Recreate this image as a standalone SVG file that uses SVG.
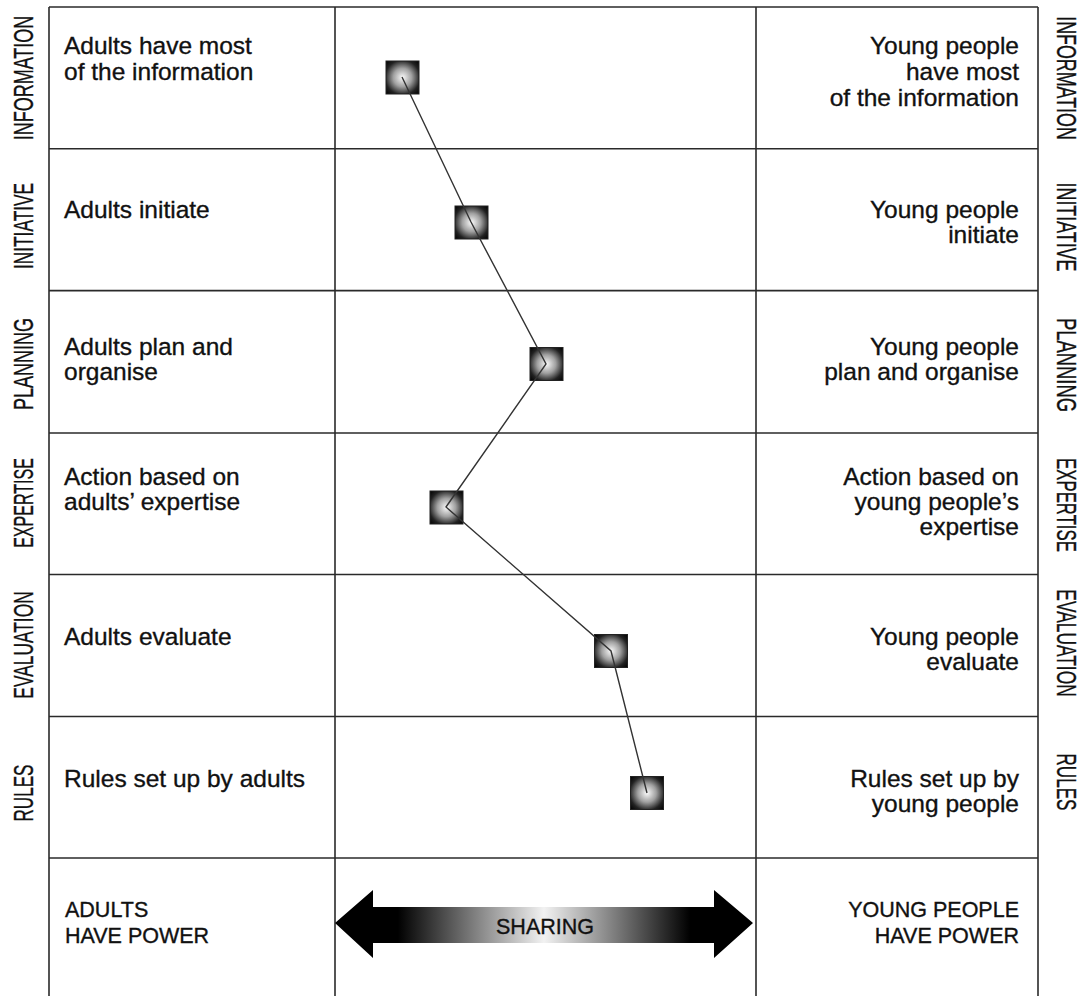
<svg xmlns="http://www.w3.org/2000/svg" width="1083" height="996" viewBox="0 0 1083 996">
<style>
.grid{stroke:#2a2a2a;stroke-width:1.6;fill:none}
.t{font-family:"Liberation Sans",Arial,sans-serif;font-size:24.5px;fill:#111;stroke:#111;stroke-width:0.35}
.r{text-anchor:end}
.cap{font-family:"Liberation Sans",Arial,sans-serif;font-size:21.5px;fill:#111;stroke:#111;stroke-width:0.35}
.side{font-family:"Liberation Sans",Arial,sans-serif;font-size:28px;fill:#111;stroke:#111;stroke-width:0.35;text-anchor:middle}
.mk{fill:url(#rg);stroke:#222;stroke-width:1}
.conn{stroke:#333;stroke-width:1.4;fill:none}
</style>
<defs>
<radialGradient id="rg" cx="0.5" cy="0.5" r="0.7">
<stop offset="0" stop-color="#fafafa"/>
<stop offset="0.4" stop-color="#a0a0a0"/>
<stop offset="0.75" stop-color="#222"/>
<stop offset="1" stop-color="#000"/>
</radialGradient>
<linearGradient id="lg" x1="335" y1="0" x2="753" y2="0" gradientUnits="userSpaceOnUse">
<stop offset="0" stop-color="#000"/>
<stop offset="0.15" stop-color="#000"/>
<stop offset="0.5" stop-color="#f2f2f2"/>
<stop offset="0.85" stop-color="#000"/>
<stop offset="1" stop-color="#000"/>
</linearGradient>
</defs>
<rect width="1083" height="996" fill="#fff"/>
<g id="grid" class="grid">
<line x1="49" y1="7" x2="1038" y2="7"/>
<line x1="49" y1="148.8" x2="1038" y2="148.8"/>
<line x1="49" y1="290.6" x2="1038" y2="290.6"/>
<line x1="49" y1="433" x2="1038" y2="433"/>
<line x1="49" y1="574.5" x2="1038" y2="574.5"/>
<line x1="49" y1="716.5" x2="1038" y2="716.5"/>
<line x1="49" y1="858" x2="1038" y2="858"/>
<line x1="49" y1="7" x2="49" y2="996"/>
<line x1="335" y1="7" x2="335" y2="996"/>
<line x1="756" y1="7" x2="756" y2="996"/>
<line x1="1038" y1="7" x2="1038" y2="996"/>
</g>
<g id="side-left">
<text class="side" transform="translate(33,78) rotate(-90) scale(0.643,1)">INFORMATION</text>
<text class="side" transform="translate(33,226) rotate(-90) scale(0.617,1)">INITIATIVE</text>
<text class="side" transform="translate(33,364) rotate(-90) scale(0.643,1)">PLANNING</text>
<text class="side" transform="translate(33,503) rotate(-90) scale(0.573,1)">EXPERTISE</text>
<text class="side" transform="translate(33,645) rotate(-90) scale(0.62,1)">EVALUATION</text>
<text class="side" transform="translate(33,793) rotate(-90) scale(0.61,1)">RULES</text>
</g>
<g id="side-right">
<text class="side" transform="translate(1057,78) rotate(90) scale(0.638,1)">INFORMATION</text>
<text class="side" transform="translate(1057,227) rotate(90) scale(0.638,1)">INITIATIVE</text>
<text class="side" transform="translate(1057,365) rotate(90) scale(0.657,1)">PLANNING</text>
<text class="side" transform="translate(1057,505) rotate(90) scale(0.599,1)">EXPERTISE</text>
<text class="side" transform="translate(1057,643) rotate(90) scale(0.62,1)">EVALUATION</text>
<text class="side" transform="translate(1057,782) rotate(90) scale(0.61,1)">RULES</text>
</g>
<g id="row-information">
<text class="t" x="64" y="54">Adults have most</text>
<text class="t" x="64" y="80">of the information</text>
<text class="t r" x="1019" y="54">Young people</text>
<text class="t r" x="1019" y="80">have most</text>
<text class="t r" x="1019" y="106">of the information</text>
</g>
<g id="row-initiative">
<text class="t" x="64" y="218">Adults initiate</text>
<text class="t r" x="1019" y="218">Young people</text>
<text class="t r" x="1019" y="243">initiate</text>
</g>
<g id="row-planning">
<text class="t" x="64" y="355">Adults plan and</text>
<text class="t" x="64" y="380">organise</text>
<text class="t r" x="1019" y="355">Young people</text>
<text class="t r" x="1019" y="380">plan and organise</text>
</g>
<g id="row-expertise">
<text class="t" x="64" y="485">Action based on</text>
<text class="t" x="64" y="510">adults’ expertise</text>
<text class="t r" x="1019" y="485">Action based on</text>
<text class="t r" x="1019" y="510">young people’s</text>
<text class="t r" x="1019" y="535">expertise</text>
</g>
<g id="row-evaluation">
<text class="t" x="64" y="645">Adults evaluate</text>
<text class="t r" x="1019" y="645">Young people</text>
<text class="t r" x="1019" y="670">evaluate</text>
</g>
<g id="row-rules">
<text class="t" x="64" y="787">Rules set up by adults</text>
<text class="t r" x="1019" y="787">Rules set up by</text>
<text class="t r" x="1019" y="812">young people</text>
</g>
<g id="row-power">
<text class="cap" x="65" y="917">ADULTS</text>
<text class="cap" x="65" y="943">HAVE POWER</text>
<text class="cap r" x="1019" y="917">YOUNG PEOPLE</text>
<text class="cap r" x="1019" y="943">HAVE POWER</text>
</g>
<g id="sharing-arrow">
<polygon points="335,923 373,890 373,907 714,907 714,890 753,923 714,958 714,943 373,943 373,958" fill="url(#lg)"/>
<text class="cap" x="545" y="934" text-anchor="middle" font-size="23">SHARING</text>
</g>
<g id="markers">
<rect id="m1" class="mk" x="386" y="61" width="33" height="33"/>
<rect id="m2" class="mk" x="455" y="206" width="33" height="33"/>
<rect id="m3" class="mk" x="530" y="347.5" width="33" height="33"/>
<rect id="m4" class="mk" x="430" y="491" width="33" height="33"/>
<rect id="m5" class="mk" x="594.5" y="634.5" width="33" height="33"/>
<rect id="m6" class="mk" x="630.5" y="776.5" width="33" height="33"/>
</g>
<g id="connectors">
<polyline class="conn" points="402,77 471,222 546,364 446,507 611,651 647,793"/>
</g>
</svg>
